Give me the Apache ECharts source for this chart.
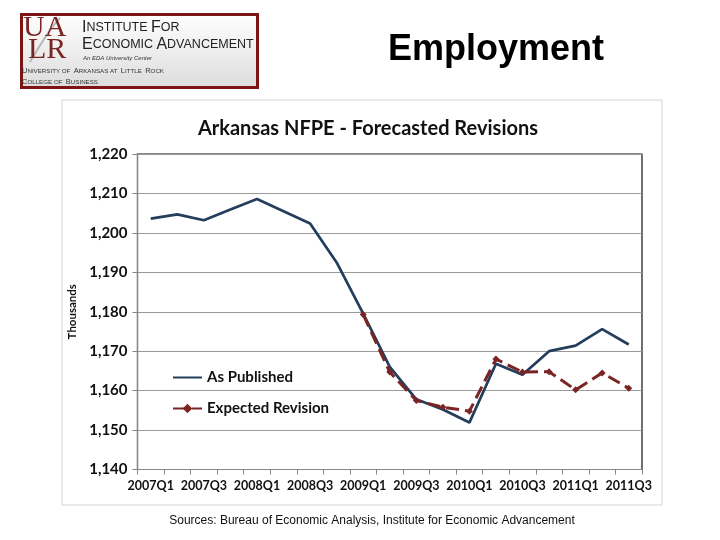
<!DOCTYPE html>
<html>
<head>
<meta charset="utf-8">
<script src="https://cdn.jsdelivr.net/npm/echarts@6/dist/echarts.min.js"></script>
<style>html,body{margin:0;padding:0;background:#fff}#c{width:720px;height:540px}</style>
</head>
<body>
<div id="c"></div>
<script>
var categories = ['2007Q1','2007Q2','2007Q3','2007Q4','2008Q1','2008Q2','2008Q3','2008Q4',
  '2009Q1','2009Q2','2009Q3','2009Q4','2010Q1','2010Q2','2010Q3','2010Q4','2011Q1','2011Q2','2011Q3'];
var asPublished = [1203.6,1204.7,1203.2,1205.9,1208.6,1205.5,1202.4,1192.5,
  1179.5,1166.0,1157.8,1155.2,1151.9,1166.8,1164.0,1170.0,1171.4,1175.6,1171.7];
var expectedRevision = [null,null,null,null,null,null,null,null,
  1179.3,1164.7,1157.5,1155.8,1154.8,1168.0,1164.7,1164.8,1160.2,1164.5,1160.6];
var seriesNames = ['As Published','Expected Revision'];
var yTicks = {min:1140, max:1220, interval:10};

var chart = echarts.init(document.getElementById('c'), null, {renderer:'canvas'});
var lab = 'Lato, "Open Sans", sans-serif';
var sans = '"Liberation Sans", Arial, sans-serif';
var serif = '"Liberation Serif", "DejaVu Serif", serif';
var maroon = '#7a2424';
var navy = '#233d5c';

function caps(parts, big, small, color){
  return {
    text: parts,
    rich:{b:{fontFamily:sans, fontSize:big, fill:color, color:color}, s:{fontFamily:sans, fontSize:small, fill:color, color:color}}
  };
}

chart.setOption({
  animation:false,
  backgroundColor:'#fff',
  title:{
    text:'Arkansas NFPE - Forecasted Revisions',
    left:363, textAlign:'center', top:114,
    textStyle:{fontFamily:lab, fontWeight:'bold', fontSize:20, color:'#111'}
  },
  legend:{
    orient:'vertical', left:167, top:365,
    itemWidth:29, itemHeight:12, itemGap:16,
    textStyle:{fontFamily:lab, fontWeight:'bold', fontSize:15, color:'#111'},
    data:[{name:seriesNames[0], itemStyle:{opacity:0}}, {name:seriesNames[1]}]
  },
  grid:{left:137.5, right:78, top:154, bottom:70.5, show:true, borderColor:'#111', borderWidth:1.2, backgroundColor:'transparent'},
  xAxis:{
    type:'category', data:categories, boundaryGap:true,
    axisLine:{lineStyle:{color:'#888', width:1.2}},
    axisTick:{show:true, interval:0, length:5, lineStyle:{color:'#888'}},
    axisLabel:{interval:1, fontFamily:lab, fontWeight:'bold', fontSize:12.5, color:'#111', margin:10},
    splitLine:{show:false}
  },
  yAxis:{
    type:'value', min:yTicks.min, max:yTicks.max, interval:yTicks.interval,
    name:'Thousands', nameLocation:'middle', nameGap:58,
    nameTextStyle:{fontFamily:lab, fontWeight:'bold', fontSize:11.5, color:'#111'},
    axisLine:{show:true, lineStyle:{color:'#888', width:1.2}},
    axisTick:{show:true, length:5, lineStyle:{color:'#888'}},
    axisLabel:{fontFamily:lab, fontWeight:'bold', fontSize:15, color:'#111', margin:10,
      formatter:function(v){return v.toLocaleString('en-US');}},
    splitLine:{lineStyle:{color:'#9a9a9a', width:1.2}}
  },
  series:[
    {name:seriesNames[0], type:'line', data:asPublished, showSymbol:false, symbol:'none',
     lineStyle:{color:navy, width:2.7}, itemStyle:{color:navy}, z:3},
    {name:seriesNames[1], type:'line', data:expectedRevision, symbol:'diamond', symbolSize:7,
     connectNulls:false,
     lineStyle:{color:maroon, width:3, type:[13,6]}, itemStyle:{color:maroon}, z:4}
  ],
  graphic:[
    {type:'rect', shape:{x:62, y:100, width:600, height:405}, style:{fill:'none', stroke:'#d4d4d4', lineWidth:1}, z:-1},
    {type:'rect', shape:{x:21.5, y:14.5, width:236, height:73},
     style:{fill:new echarts.graphic.LinearGradient(0,0,0,1,[{offset:0,color:'#ffffff'},{offset:1,color:'#dcdcdc'}]), stroke:'#7d1414', lineWidth:3}},
    {type:'bezierCurve', shape:{x1:30,y1:62,x2:60,y2:18,cpx1:40,cpy1:45,cpx2:50,cpy2:28}, style:{stroke:'#b8b8b8', lineWidth:2, fill:'none'}},
    {type:'text', x:23, y:13, style:{text:'UA', font:'30px '+serif, fill:maroon}},
    {type:'text', x:28, y:35, style:{text:'LR', font:'30px '+serif, fill:maroon}},
    {type:'text', x:82, y:20, style:caps('{b|I}{s|NSTITUTE} {b|F}{s|OR}', 16, 12.5, '#222')},
    {type:'text', x:82, y:37, style:caps('{b|E}{s|CONOMIC} {b|A}{s|DVANCEMENT}', 16, 12.5, '#222')},
    {type:'text', x:83, y:55, style:{text:'An EDA University Center', font:'italic 6px '+sans, fill:'#333'}},
    {type:'text', x:22, y:65, style:caps('{b|U}{s|NIVERSITY OF} {b|A}{s|RKANSAS AT} {b|L}{s|ITTLE} {b|R}{s|OCK}', 7.5, 6.2, '#333')},
    {type:'text', x:22, y:76, style:caps('{b|C}{s|OLLEGE OF} {b|B}{s|USINESS}', 7.5, 6.2, '#333')},
    {type:'text', x:496, y:50, style:{text:'Employment', font:'bold 36px '+sans, fill:'#000', textAlign:'center', textVerticalAlign:'middle'}},
    {type:'text', x:372, y:521, style:{text:'Sources: Bureau of Economic Analysis, Institute for Economic Advancement', font:'12px '+sans, fill:'#111', textAlign:'center', textVerticalAlign:'middle'}}
  ]
});
</script>
</body>
</html>
